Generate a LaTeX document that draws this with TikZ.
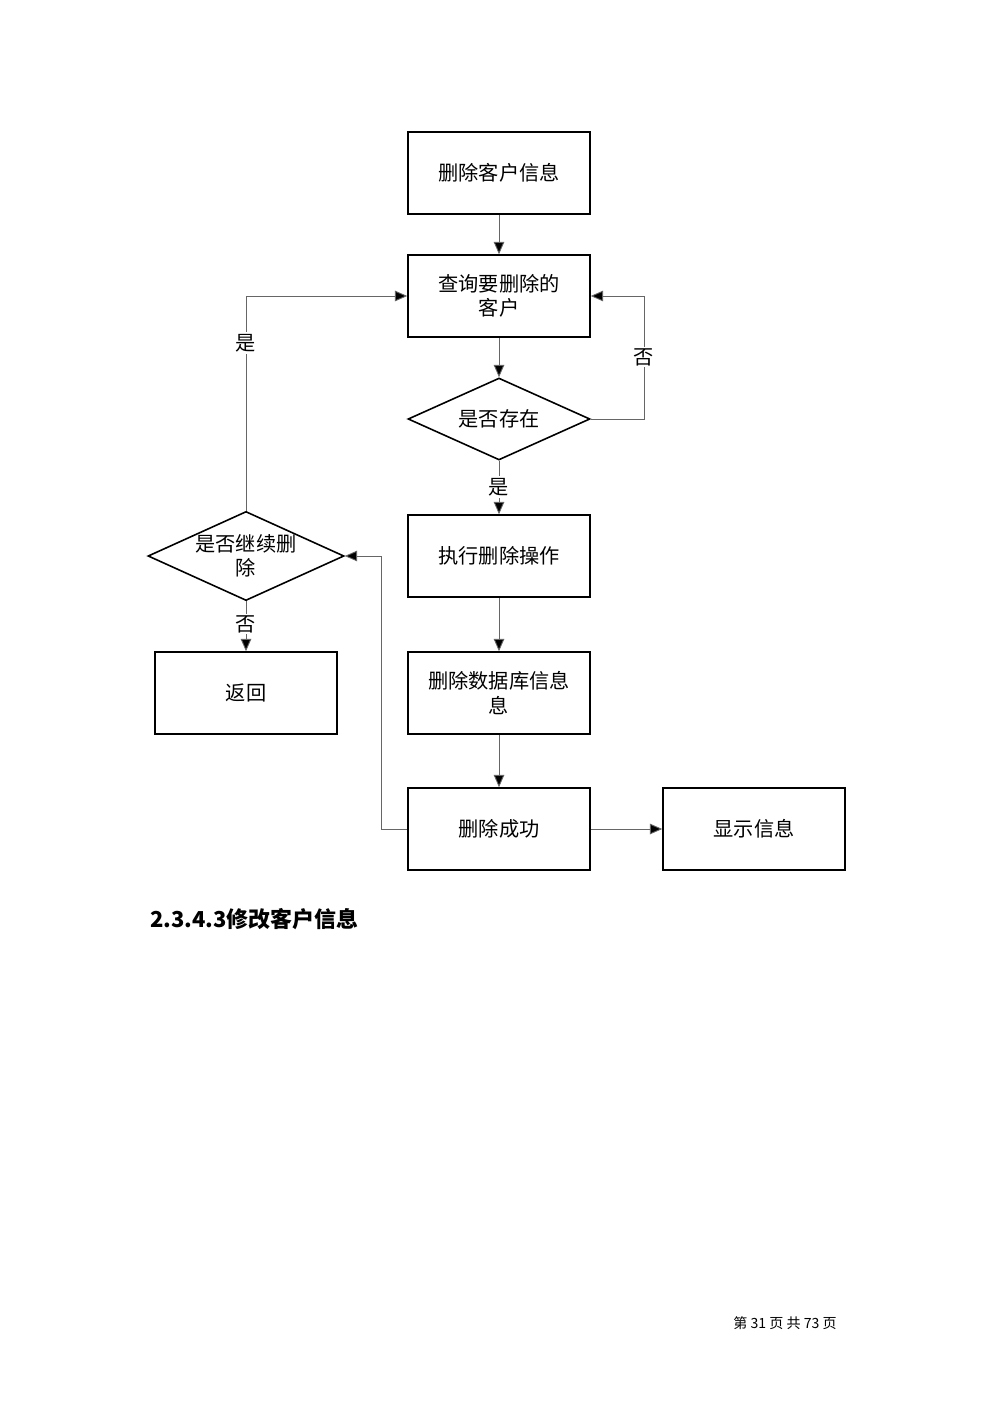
\documentclass[tikz,border=0pt]{standalone}
\usepackage{fontspec}
\setmainfont{Liberation Serif}
\newfontfamily\cjk{Noto Sans CJK SC}
\usetikzlibrary{shapes.geometric,arrows.meta}
\begin{document}
\begin{tikzpicture}[x=0.02cm,y=-0.02cm,
 box/.style={draw,line width=0.9pt,minimum width=3.64cm,minimum height=1.64cm,align=center,font=\cjk\fontsize{11.5}{14}\selectfont,inner sep=1pt},
 dia/.style={draw,diamond,aspect=2.2,line width=0.9pt,minimum width=3.64cm,minimum height=1.64cm,align=center,font=\cjk\fontsize{11.5}{14}\selectfont,inner sep=0pt},
 ln/.style={draw=black!60,line width=0.5pt},
 ar/.style={ln,-{Triangle[length=7pt,width=6pt,fill=black]}},
 lab/.style={font=\cjk\fontsize{11.5}{14}\selectfont,fill=white,inner sep=1pt}]
\useasboundingbox (0,0) rectangle (1000,1415);
\node[box] (a) at (499,173) {删除客户信息};
\node[box] (b) at (499,296) {查询要删除的\\客户};
\node[dia] (c) at (499,419) {是否存在};
\node[box] (d) at (499,556) {执行删除操作};
\node[box] (e) at (499,693) {删除数据库信息\\息};
\node[box] (f) at (499,829) {删除成功};
\node[box] (g) at (754,829) {显示信息};
\node[dia] (h) at (246,556) {是否继续删\\除};
\node[box] (i) at (246,693) {返回};
\draw[ar] (a) -- (b);
\draw[ar] (b) -- (c);
\draw[ar] (c) -- (d);
\draw[ar] (d) -- (e);
\draw[ar] (e) -- (f);
\draw[ar] (f) -- (g);
\draw[ar] (h) -- (i);
\draw[ar] (c.east) -- (644,419) -- (644,296) -- (b.east);
\draw[ar] (h.north) -- (246,296) -- (b.west);
\draw[ar] (f.west) -- (381,829) -- (381,556) -- (h.east);
\node[lab] (l1) at (644,357) {否};
\node[lab] (l2) at (246,343) {是};
\node[lab] (l3) at (499,487) {是};
\node[lab] (l4) at (246,624) {否};
\node[anchor=west,font=\cjk\bfseries\fontsize{12.5}{15}\selectfont,inner sep=0] (t) at (150,919) {2.3.4.3修改客户信息};
\node[font=\cjk\fontsize{8}{10}\selectfont] (p) at (785,1323) {第 31 页 共 73 页};
\end{tikzpicture}
\end{document}
